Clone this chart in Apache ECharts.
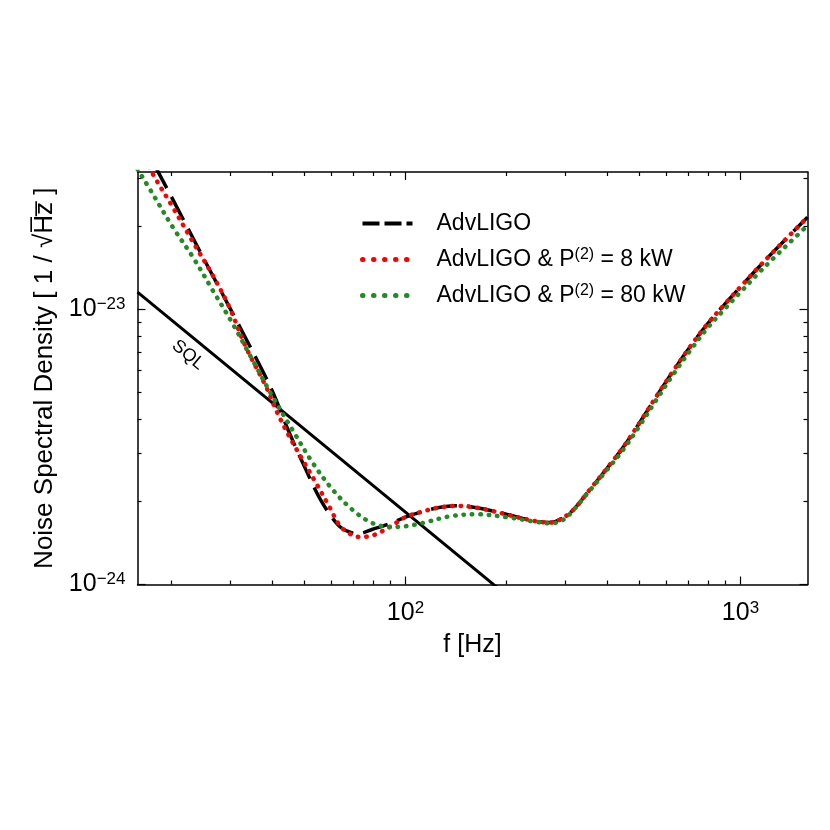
<!DOCTYPE html>
<html>
<head>
<meta charset="utf-8">
<script src="https://cdn.jsdelivr.net/npm/echarts@6/dist/echarts.min.js"></script>
<style>
html,body{margin:0;padding:0;background:#fff;}
#chart{width:830px;height:830px;}
</style>
</head>
<body>
<div id="chart"></div>
<script>
// ---- data (frequency in Hz, noise in units of 1e-24 / sqrt(Hz)) ----
const NOISE_UNIT = 1e-24;

const advFreq  = [15.85, 20, 25.1, 31.6, 39.8, 44.7, 50.1, 56.2, 63.1, 67.6, 72.4, 79.4, 89.1, 100, 112, 126, 141, 158, 178, 200, 224, 251, 269, 288, 316, 355, 398, 447, 501, 562, 631, 708, 794, 891, 1000, 1122, 1259, 1413, 1585];
const advNoise = [43.65, 25.7, 15.14, 8.91, 5.13, 3.63, 2.66, 2.00, 1.64, 1.556, 1.531, 1.585, 1.66, 1.758, 1.84, 1.905, 1.932, 1.914, 1.862, 1.80, 1.738, 1.690, 1.679, 1.718, 1.862, 2.213, 2.630, 3.162, 3.890, 4.842, 5.998, 7.328, 8.810, 10.35, 12.08, 14.06, 16.29, 18.79, 21.63];

const p8Freq  = [15.85, 17.6, 20.2, 22.9, 26.6, 29.8, 33.4, 38.4, 41.1, 45.1, 49.4, 54.2, 59.3, 63.6, 68.1, 72.9, 80.0, 89.7, 100, 112, 126, 141, 158, 178, 200, 224, 251, 269, 288, 316, 355, 398, 447, 501, 562, 631, 708, 794, 891, 1000, 1122, 1259, 1413, 1585];
const p8Noise = [39.8, 31.1, 23.55, 18.07, 13.29, 10.19, 7.29, 5.22, 4.30, 3.436, 2.831, 2.328, 1.914, 1.641, 1.531, 1.489, 1.510, 1.618, 1.758, 1.84, 1.905, 1.932, 1.914, 1.862, 1.80, 1.738, 1.690, 1.679, 1.718, 1.862, 2.213, 2.630, 3.162, 3.890, 4.842, 5.998, 7.328, 8.810, 10.35, 12.08, 14.06, 16.29, 18.79, 21.63];

const p80Freq  = [15.85, 17.6, 20.2, 23.2, 26.6, 30.5, 35.0, 40.2, 46.1, 53.0, 60.8, 69.7, 80.0, 91.8, 100, 113, 135.7, 163, 205, 247, 270, 295, 316, 355, 398, 447, 501, 562, 631, 708, 794, 891, 1000, 1122, 1259, 1413, 1585];
const p80Noise = [32.4, 26.3, 19.91, 15.49, 11.72, 8.87, 6.53, 4.80, 3.63, 2.754, 2.203, 1.862, 1.667, 1.618, 1.629, 1.675, 1.770, 1.80, 1.750, 1.687, 1.667, 1.718, 1.854, 2.198, 2.594, 3.097, 3.793, 4.710, 5.821, 7.096, 8.511, 9.954, 11.56, 13.40, 15.42, 17.66, 20.18];

const sqlFreq  = [15.85, 200];
const sqlNoise = [11.56, 0.916];

const seriesNames = ['AdvLIGO', 'AdvLIGO & P(2) = 8 kW', 'AdvLIGO & P(2) = 80 kW'];

// axis ranges and ticks (real units)
const xRange = [15.85, 1585];
const yRange = [1e-24, 3.16e-23];
const xMajorTicks = [100, 1000];
const xMinorTicks = [20, 30, 40, 50, 60, 70, 80, 90, 200, 300, 400, 500, 600, 700, 800, 900];
const yMajorTicks = [1e-24, 1e-23];
const yMinorTicks = [2e-24, 3e-24, 4e-24, 5e-24, 6e-24, 7e-24, 8e-24, 9e-24, 2e-23, 3e-23];

// ---- build ----
const L = Math.log10;
function pts(fs, ns) { return fs.map((f, i) => [L(f), L(ns[i] * NOISE_UNIT)]); }

const FONT = "'Liberation Sans', Arial, Helvetica, sans-serif";
const MINUS = '\u2212';
function expLabel(v) {
  const e = Math.round(v);
  const s = e < 0 ? MINUS + Math.abs(e) : String(e);
  return '{b|10}{s|' + s + '}';
}
const labelRich = {
  b: { fontSize: 25, fontFamily: FONT, color: '#000', lineHeight: 28 },
  s: { fontSize: 17, fontFamily: FONT, color: '#000', lineHeight: 5, verticalAlign: 'top' }
};

function xAxisDef(pos, ticks, len, showLine, showLabel, extra) {
  return Object.assign({
    type: 'value', position: pos, min: L(xRange[0]), max: L(xRange[1]),
    axisLine: { show: showLine, lineStyle: { color: '#000', width: 1.5 } },
    axisTick: { show: true, inside: true, length: len, customValues: ticks.map(L), lineStyle: { color: '#000', width: 1.2 } },
    axisLabel: showLabel ? { show: true, customValues: ticks.map(L), formatter: expLabel, rich: labelRich, margin: 15 } : { show: false },
    splitLine: { show: false }
  }, extra || {});
}
function yAxisDef(pos, ticks, len, showLine, showLabel, extra) {
  return Object.assign({
    type: 'value', position: pos, min: L(yRange[0]), max: L(yRange[1]),
    axisLine: { show: showLine, lineStyle: { color: '#000', width: 1.5 } },
    axisTick: { show: true, inside: true, length: len, customValues: ticks.map(L), lineStyle: { color: '#000', width: 1.2 } },
    axisLabel: showLabel ? { show: true, customValues: ticks.map(L), formatter: expLabel, rich: labelRich, margin: 12 } : { show: false },
    splitLine: { show: false }
  }, extra || {});
}

const chart = echarts.init(document.getElementById('chart'), null, { renderer: 'canvas' });

const dotted = (c) => ({ color: c, width: 4.5, type: [0.5, 7.9], cap: 'round' });

const option = {
  animation: false,
  backgroundColor: '#fff',
  grid: { left: 137.5, top: 172, right: 22.5, bottom: 245.5, containLabel: false },
  xAxis: [
    xAxisDef('bottom', xMajorTicks, 8, true, true, {
      name: 'f [Hz]', nameLocation: 'middle', nameGap: 48,
      nameTextStyle: { fontSize: 25, fontFamily: FONT, color: '#000' }
    }),
    xAxisDef('bottom', xMinorTicks, 4, false, false),
    xAxisDef('top', xMajorTicks, 8, true, false),
    xAxisDef('top', xMinorTicks, 4, false, false)
  ],
  yAxis: [
    yAxisDef('left', yMajorTicks, 8, true, true, {
      name: 'Noise Spectral Density [ 1 / \u221AH\u0305z\u0305 ]', nameLocation: 'middle', nameGap: 79,
      nameTextStyle: { fontSize: 26, fontFamily: FONT, color: '#000' }
    }),
    yAxisDef('left', yMinorTicks, 4, false, false),
    yAxisDef('right', yMajorTicks, 8, true, false),
    yAxisDef('right', yMinorTicks, 4, false, false)
  ],
  legend: {
    show: true, orient: 'vertical', left: 360, top: 212, padding: 0,
    itemWidth: 50, itemHeight: 14, itemGap: 11.5,
    data: [
      { name: seriesNames[0], itemStyle: { opacity: 0 }, lineStyle: { color: '#000', width: 4, type: [17, 5] } },
      { name: seriesNames[1], itemStyle: { opacity: 0 }, lineStyle: { color: '#ff0000', width: 5, type: [0.5, 10.5], cap: 'round' } },
      { name: seriesNames[2], itemStyle: { opacity: 0 }, lineStyle: { color: '#228b22', width: 5, type: [0.5, 10.5], cap: 'round' } }
    ],
    formatter: function (name) {
      const parts = name.split('(2)');
      let s = '{g|}{n|' + parts[0] + '}';
      if (parts.length > 1) s += '{s|(2)}{n|' + parts[1] + '}';
      return s;
    },
    textStyle: {
      fontSize: 23, fontFamily: FONT, color: '#000',
      rich: {
        g: { width: 19 },
        n: { fontSize: 23, fontFamily: FONT, color: '#000', lineHeight: 26 },
        s: { fontSize: 16, fontFamily: FONT, color: '#000', lineHeight: 8, verticalAlign: 'top' }
      }
    }
  },
  series: [
    {
      name: 'SQL', type: 'line', xAxisIndex: 0, yAxisIndex: 0,
      data: pts(sqlFreq, sqlNoise), showSymbol: false, symbol: 'none',
      lineStyle: { color: '#000', width: 3 }, clip: true, silent: true, z: 2
    },
    {
      name: seriesNames[0], type: 'line', xAxisIndex: 0, yAxisIndex: 0,
      data: pts(advFreq, advNoise), symbol: 'none', smooth: 0.35, clip: true,
      lineStyle: { color: '#000', width: 3.5, type: [26, 10] }, itemStyle: { color: '#000' }, z: 3
    },
    {
      name: seriesNames[1], type: 'line', xAxisIndex: 0, yAxisIndex: 0,
      data: pts(p8Freq, p8Noise), symbol: 'none', smooth: 0.35, clip: true,
      lineStyle: dotted('#ff0000'), itemStyle: { color: '#ff0000' }, z: 4
    },
    {
      name: seriesNames[2], type: 'line', xAxisIndex: 0, yAxisIndex: 0,
      data: pts(p80Freq, p80Noise), symbol: 'none', smooth: 0.35, clip: true,
      lineStyle: dotted('#228b22'), itemStyle: { color: '#228b22' }, z: 5
    }
  ],
  graphic: [
    {
      type: 'text', x: 188, y: 355, rotation: -0.69, z: 10,
      style: { text: 'SQL', fontSize: 18, fontFamily: FONT, fill: '#000', align: 'center', verticalAlign: 'middle' }
    }
  ]
};
chart.setOption(option);
</script>
</body>
</html>
